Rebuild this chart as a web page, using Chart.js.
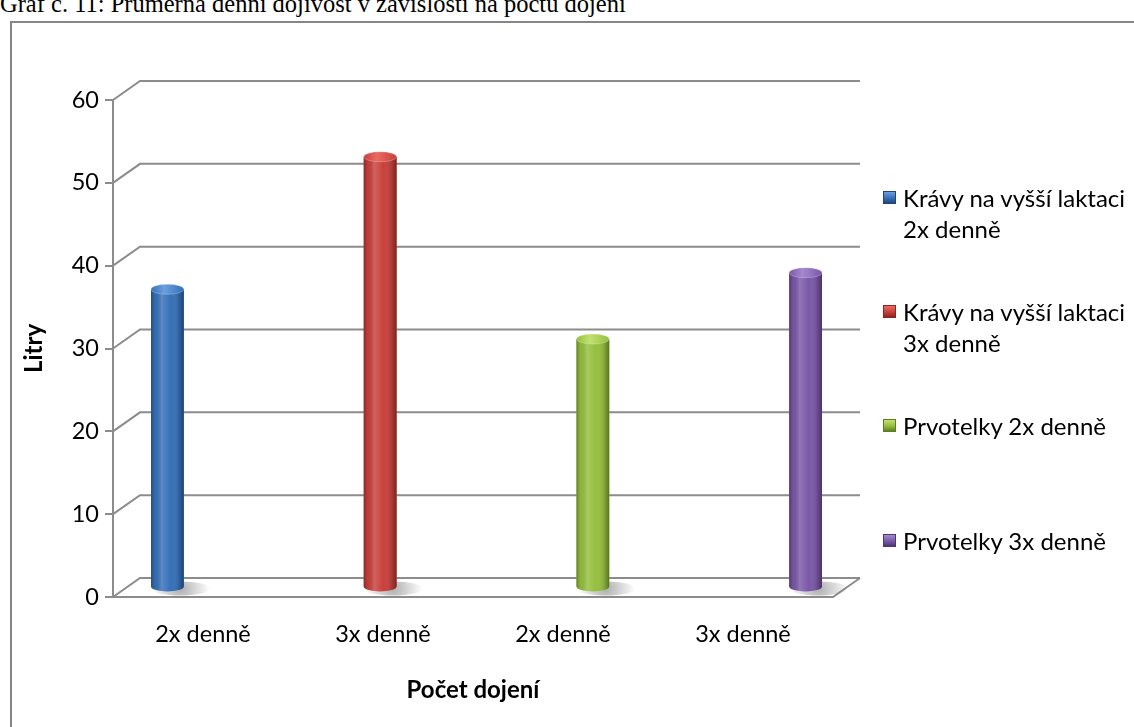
<!DOCTYPE html>
<html>
<head>
<meta charset="utf-8">
<script src="https://cdn.jsdelivr.net/npm/chart.js@4.4.0/dist/chart.umd.min.js"></script>
<style>
html, body { margin: 0; padding: 0; background: #fff; overflow: hidden; }
#wrap { position: relative; width: 1134px; height: 727px; }
#title { position: absolute; left: 0; top: -10px; font: 24.5px "Liberation Serif", serif; white-space: nowrap; color: #000; }
#frame { position: absolute; left: 10px; top: 21px; width: 1150px; height: 740px; border: 2px solid #868686; box-sizing: border-box; }
#chart { position: absolute; left: 0; top: 0; }
.item { position: absolute; left: 883px; font: 24px Lato, sans-serif; line-height: 31px; color: #000; }
.item .mark { position: absolute; left: 0; top: 9px; width: 13px; height: 13px; box-sizing: border-box; }
.item .txt { position: absolute; left: 20px; top: 0; width: 236px; }
</style>
</head>
<body>
<div id="wrap">
  <div id="title">Graf č. 11: Průměrná denní dojivost v závislosti na počtu dojení</div>
  <div id="frame"></div>
  <canvas id="chart" width="1134" height="727"></canvas>
  <div id="legend"></div>
</div>
<script>
const categories = ['2x denně', '3x denně', '2x denně', '3x denně'];
const seriesNames = ['Krávy na vyšší laktaci 2x denně', 'Krávy na vyšší laktaci 3x denně', 'Prvotelky 2x denně', 'Prvotelky 3x denně'];
const kravy2x = [36, null, null, null];
const kravy3x = [null, 52, null, null];
const prvotelky2x = [null, null, 30, null];
const prvotelky3x = [null, null, null, 38];
const yTicks = [0, 10, 20, 30, 40, 50, 60];

// base / light cap / dark edge per series
const colors = [
    ['#3670b8', '#6a9ee0', '#214578'],
    ['#c8403b', '#ea6a64', '#8a2622'],
    ['#95bf3e', '#c2e070', '#5f7f22'],
    ['#7a58a8', '#a588d0', '#4e3673'],
];
const legendTops = [182, 296, 410, 525];

// depth of the fake 3d box
const DX = 27, DY = -19;

const depth = {
    id: 'depth',
    beforeDatasetsDraw(chart) {
        const { ctx, chartArea: a, scales: { y } } = chart;
        ctx.save();
        ctx.strokeStyle = '#8c8c8c';
        ctx.lineWidth = 2;
        ctx.beginPath();
        y.ticks.forEach((t) => {
            const py = y.getPixelForValue(t.value);
            ctx.moveTo(a.left, py);
            ctx.lineTo(a.left + DX, py + DY);
            ctx.lineTo(a.right + DX, py + DY);
        });
        ctx.moveTo(a.left, a.bottom);
        ctx.lineTo(a.right, a.bottom);
        ctx.lineTo(a.right + DX, a.bottom + DY);
        ctx.stroke();
        ctx.restore();

        // bars stand half way into the box
        ctx.save();
        ctx.translate(DX / 2, DY / 2);
        chart.data.datasets.forEach((ds, i) => {
            chart.getDatasetMeta(i).data.forEach((bar, j) => {
                if (ds.data[j] == null) return;
                const r = bar.width / 2;
                const g = ctx.createRadialGradient(bar.x + r * 0.8, bar.base + 2, 2, bar.x + r * 0.8, bar.base + 2, r * 1.8);
                g.addColorStop(0, 'rgba(90,90,90,0.45)');
                g.addColorStop(1, 'rgba(90,90,90,0)');
                ctx.fillStyle = g;
                ctx.beginPath();
                ctx.ellipse(bar.x + r * 0.8, bar.base + 2, r * 1.8, 7, 0, 0, Math.PI * 2);
                ctx.fill();
            });
        });
    },
    afterDatasetsDraw(chart) {
        const { ctx } = chart;
        chart.data.datasets.forEach((ds, i) => {
            const c = colors[i];
            chart.getDatasetMeta(i).data.forEach((bar, j) => {
                if (ds.data[j] == null) return;
                const r = bar.width / 2, ry = 5;
                const x = bar.x, top = bar.y, base = bar.base;
                ctx.beginPath();
                ctx.moveTo(x - r, top);
                ctx.lineTo(x - r, base);
                ctx.ellipse(x, base, r, ry, 0, Math.PI, 0, true);
                ctx.lineTo(x + r, top);
                ctx.closePath();
                ctx.fillStyle = c[0];
                ctx.fill();
                const g = ctx.createLinearGradient(x - r, 0, x + r, 0);
                g.addColorStop(0, 'rgba(0,0,0,0.30)');
                g.addColorStop(0.12, 'rgba(0,0,0,0.05)');
                g.addColorStop(0.32, 'rgba(255,255,255,0.18)');
                g.addColorStop(0.6, 'rgba(255,255,255,0)');
                g.addColorStop(0.88, 'rgba(0,0,0,0.18)');
                g.addColorStop(1, 'rgba(0,0,0,0.40)');
                ctx.fillStyle = g;
                ctx.fill();
                // top cap
                const cg = ctx.createLinearGradient(x - r, 0, x + r, 0);
                cg.addColorStop(0, c[0]);
                cg.addColorStop(0.4, c[1]);
                cg.addColorStop(1, c[0]);
                ctx.beginPath();
                ctx.ellipse(x, top, r, ry, 0, 0, Math.PI * 2);
                ctx.fillStyle = cg;
                ctx.fill();
                ctx.strokeStyle = 'rgba(255,255,255,0.25)';
                ctx.lineWidth = 1;
                ctx.stroke();
            });
        });
        ctx.restore();
    },
};

const series = [kravy2x, kravy3x, prvotelky2x, prvotelky3x];

new Chart(document.getElementById('chart'), {
    type: 'bar',
    data: {
        labels: categories,
        datasets: series.map((d, i) => ({
            label: seriesNames[i],
            data: d,
            backgroundColor: colors[i][0],
            categoryPercentage: 4 / 5.5,
            barPercentage: 1,
        })),
    },
    options: {
        responsive: false,
        animation: false,
        events: [],
        layout: { padding: { left: 0, top: 100, right: 301, bottom: 0 } },
        plugins: { legend: { display: false }, tooltip: { enabled: false } },
        scales: {
            x: {
                afterFit: (s) => { s.height = 130; },
                grid: { display: false, drawTicks: false },
                border: { display: false },
                ticks: { color: '#000', padding: 23, font: { family: 'Lato', size: 23.5 } },
                title: {
                    display: true,
                    text: 'Počet dojení',
                    color: '#000',
                    font: { family: 'Lato', size: 24, weight: 'bold' },
                    padding: { top: 0, bottom: 22 },
                },
            },
            y: {
                min: 0,
                max: 60,
                afterFit: (s) => { s.width = 113; },
                afterBuildTicks: (s) => { s.ticks = yTicks.map((v) => ({ value: v })); },
                grid: { drawOnChartArea: false, drawTicks: true, tickLength: 8, color: '#8c8c8c', lineWidth: 2 },
                border: { display: true, color: '#8c8c8c', width: 2 },
                ticks: { color: '#000', padding: 6, font: { family: 'Lato', size: 23.5 } },
                title: {
                    display: true,
                    text: 'Litry',
                    color: '#000',
                    font: { family: 'Lato', size: 24, weight: 'bold' },
                    padding: { top: 20, bottom: 0 },
                },
            },
        },
    },
    plugins: [depth],
});

// legend on the right, built from the series names
const legend = document.getElementById('legend');
seriesNames.forEach((name, i) => {
    const c = colors[i];
    const item = document.createElement('div');
    item.className = 'item';
    item.style.top = legendTops[i] + 'px';
    item.innerHTML = '<div class="mark" style="background:linear-gradient(180deg,' + c[1] + ',' + c[0] + ' 55%,' + c[2] + ');border:1px solid ' + c[2] + '"></div><div class="txt">' + name + '</div>';
    legend.appendChild(item);
});
</script>
</body>
</html>
